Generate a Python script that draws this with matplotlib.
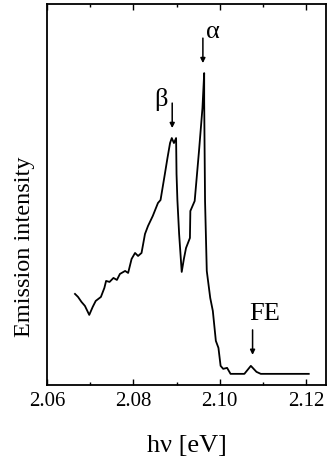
import numpy as np
import matplotlib.pyplot as plt
from matplotlib.ticker import MultipleLocator

plt.rcParams['font.family'] = ['Liberation Serif', 'DejaVu Serif']

# spectrum (photon energy in eV, intensity in arb. units)
energia = [2.0665, 2.0672, 2.0680, 2.0688, 2.0698, 2.0706, 2.0713, 2.0725, 2.0733,
           2.0737, 2.0745, 2.0754, 2.0762, 2.0769, 2.0781, 2.0788, 2.0796, 2.0804,
           2.0811, 2.0819, 2.0827, 2.0834, 2.0845, 2.0857, 2.0863, 2.0873, 2.0879,
           2.0885, 2.0889, 2.0894, 2.0899, 2.0900, 2.0902, 2.0906, 2.0912, 2.0917,
           2.0922, 2.0931, 2.0932, 2.0942, 2.0952, 2.0960, 2.0964, 2.0964, 2.0966,
           2.0970, 2.0978, 2.0984, 2.0991, 2.0997, 2.1002, 2.1008, 2.1017, 2.1025,
           2.1057, 2.1072, 2.1085, 2.1095, 2.1110, 2.1206]
intensita = [91, 88, 83, 79, 70, 78, 84, 88, 97, 104, 103, 107, 105, 111, 114,
             112, 126, 132, 129, 132, 151, 159, 169, 182, 185, 211, 227, 242,
             247, 242, 247, 211, 185, 151, 113, 126, 137, 147, 174, 184, 234,
             277, 312, 284, 184, 114, 87, 74, 44, 37, 19, 16, 17, 11, 11, 19,
             13, 11, 11, 11]

picchi = ['α', 'β', 'FE']
picco_x = [2.0961, 2.0890, 2.1076]
picco_y = [313, 248, 21]

fig = plt.figure(figsize=(3.28, 4.62), dpi=100)
ax = fig.add_axes([0.143, 0.167, 0.851, 0.824])

ax.plot(energia, intensita, color='black', linewidth=1.3)

# frecce e etichette dei picchi
pos_testo = [(2.0985, 353), (2.0863, 286), (2.1105, 71)]
for nome, px, py, (tx, ty) in zip(picchi, picco_x, picco_y, pos_testo):
    ax.annotate('', xy=(px, py + 9), xytext=(px, py + 34),
                arrowprops=dict(arrowstyle='-|>', color='black', lw=1.1,
                                mutation_scale=7, shrinkA=0, shrinkB=0))
    ax.text(tx, ty, nome, fontsize=19, ha='center', va='center')

ax.set_xlim(2.06, 2.1246)
ax.set_ylim(0, 381)
ax.xaxis.set_major_locator(MultipleLocator(0.02))
ax.xaxis.set_minor_locator(MultipleLocator(0.01))
ax.xaxis.set_major_formatter(plt.FormatStrFormatter('%.2f'))
ax.tick_params(axis='x', which='both', direction='in', top=True, labelsize=15, pad=5)
ax.tick_params(axis='x', which='major', length=4.5, width=1)
ax.tick_params(axis='x', which='minor', length=2.2, width=1)
ax.set_yticks([])
for s in ax.spines.values():
    s.set_linewidth(1.3)

ax.set_xlabel('hν [eV]', fontsize=19)
ax.xaxis.set_label_coords(0.5, -0.132)
ax.set_ylabel('Emission intensity', fontsize=17.5)
ax.yaxis.set_label_coords(-0.042, 0.362)

fig.savefig('out.png', dpi=100)
